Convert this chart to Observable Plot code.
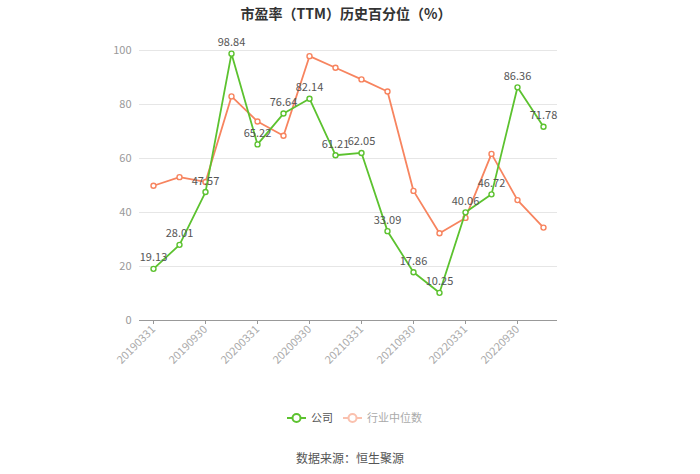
<!DOCTYPE html>
<html>
<head>
<meta charset="utf-8">
<script src="https://cdn.jsdelivr.net/npm/d3@7"></script>
<script src="https://cdn.jsdelivr.net/npm/@observablehq/plot@0.6"></script>
<style>
  body { margin: 0; background: #fff; font-family: "Noto Sans CJK SC", "Noto Sans", sans-serif; }
  #wrap { position: relative; width: 700px; height: 474px; overflow: hidden; }
  #title { position: absolute; left: 0; top: 2px; width: 692px; text-align: center; font-size: 14px; font-weight: bold; color: #333; line-height: 22px; }
  #chart { position: absolute; left: 0; top: 24px; }
  #legend { position: absolute; left: 0; top: 408px; width: 700px; height: 18px; }
  #caption { position: absolute; left: 0; top: 449px; width: 700px; text-align: center; font-size: 12px; color: #555; line-height: 18px; }
</style>
</head>
<body>
<div id="wrap">
  <div id="title">市盈率（TTM）历史百分位（%）</div>
  <div id="chart"></div>
  <div id="legend"></div>
  <div id="caption">数据来源：恒生聚源</div>
</div>
<script>
const dates = ["20190331","20190630","20190930","20191231",
               "20200331","20200630","20200930","20201231",
               "20210331","20210630","20210930","20211231",
               "20220331","20220630","20220930","20221231"];
const company = [19.13, 28.01, 47.57, 98.84, 65.22, 76.64, 82.14, 61.21,
                 62.05, 33.09, 17.86, 10.25, 40.06, 46.72, 86.36, 71.78];
const industry = [49.9, 53.1, 51.3, 83.0, 73.7, 68.4, 97.9, 93.6,
                  89.3, 84.8, 48.0, 32.3, 38.0, 61.7, 44.6, 34.4];
const yTicks = [0, 20, 40, 60, 80, 100];
const xTicks = dates.filter((d, i) => i % 2 === 0);
const seriesNames = ["公司", "行业中位数"];
const colors = ["#5cc22f", "#f7845f"];

const rows = dates.map((d, i) => ({date: d, company: company[i], industry: industry[i]}));

const chart = Plot.plot({
  width: 700,
  height: 360,
  marginLeft: 139,
  marginRight: 143,
  marginTop: 26,
  marginBottom: 64,
  style: {fontFamily: "'Noto Sans CJK SC', sans-serif", background: "transparent"},
  x: {type: "point", domain: dates, padding: 0.5, label: null},
  y: {domain: [0, 100], label: null},
  marks: [
    Plot.gridY(yTicks.filter(t => t > 0), {stroke: "#e6e6e6", strokeOpacity: 1}),
    Plot.axisY({ticks: yTicks, tickSize: 0, tickPadding: 8, fill: "#999", fontSize: 11, label: null}),
    Plot.ruleY([0], {stroke: "#999", strokeWidth: 1}),
    Plot.axisX({ticks: xTicks, tickSize: 4, stroke: "#999", tickRotate: -45, tickPadding: 3, fill: "#aaa", fontSize: 11, label: null}),
    Plot.line(rows, {x: "date", y: "industry", stroke: colors[1], strokeWidth: 1.8}),
    Plot.dot(rows, {x: "date", y: "industry", r: 2.5, fill: "#fff", stroke: colors[1], strokeWidth: 1.4}),
    Plot.line(rows, {x: "date", y: "company", stroke: colors[0], strokeWidth: 1.8}),
    Plot.dot(rows, {x: "date", y: "company", r: 2.5, fill: "#fff", stroke: colors[0], strokeWidth: 1.4}),
    Plot.text(rows, {x: "date", y: "company", text: d => d.company.toFixed(2), dy: -11, fill: "#555", fontSize: 11})
  ]
});
document.getElementById("chart").appendChild(chart);

// legend
const lg = d3.select("#legend").append("svg").attr("width", 700).attr("height", 18);
const items = [
  {x: 287, name: seriesNames[0], color: colors[0], text: "#555", op: 1},
  {x: 343, name: seriesNames[1], color: colors[1], text: "#aaa", op: 0.5}
];
items.forEach(it => {
  const g = lg.append("g").attr("opacity", it.op);
  g.append("line").attr("x1", it.x).attr("x2", it.x + 19).attr("y1", 9).attr("y2", 9)
    .attr("stroke", it.color).attr("stroke-width", 2);
  g.append("circle").attr("cx", it.x + 9.5).attr("cy", 9).attr("r", 4)
    .attr("fill", "#fff").attr("stroke", it.color).attr("stroke-width", 2);
  lg.append("text").attr("x", it.x + 24).attr("y", 13).attr("font-size", 11)
    .attr("font-family", "'Noto Sans CJK SC', sans-serif").attr("fill", it.text).text(it.name);
});
</script>
</body>
</html>
